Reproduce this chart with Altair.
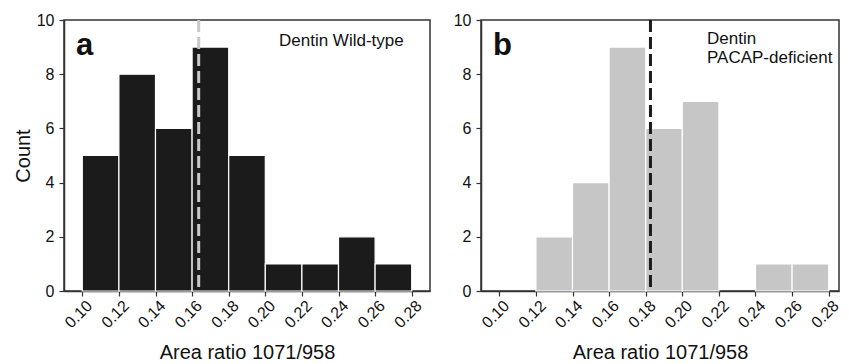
import altair as alt
import pandas as pd

bin_start = [0.10, 0.12, 0.14, 0.16, 0.18, 0.20, 0.22, 0.24, 0.26]
bin_end = [0.12, 0.14, 0.16, 0.18, 0.20, 0.22, 0.24, 0.26, 0.28]
counts_wt = [5, 8, 6, 9, 5, 1, 1, 2, 1]
counts_pacap = [0, 2, 4, 9, 6, 7, 0, 1, 1]
mean_wt = 0.1636
mean_pacap = 0.1826
x_ticks = [0.10, 0.12, 0.14, 0.16, 0.18, 0.20, 0.22, 0.24, 0.26, 0.28]
y_ticks = [0, 2, 4, 6, 8, 10]

H = 271
FONT = "Liberation Sans"


def panel(counts, mean, bar_color, line_color, letter, label_lines, show_y_title,
          width, x_max):
    df = pd.DataFrame({"start": bin_start, "end": bin_end, "count": counts})
    df = df[df["count"] > 0]
    x = alt.X(
        "start:Q",
        scale=alt.Scale(domain=[0.09, x_max], nice=False, zero=False),
        axis=alt.Axis(
            values=x_ticks, tickCount=20, format=".2f", labelAngle=-45,
            labelAlign="center", labelBaseline="middle", labelFontSize=16,
            labelPadding=18, labelOffset=-4, labelOverlap=False,
            labelFlush=False, tickSize=5, title="Area ratio 1071/958",
            titleFontSize=20, titleFontWeight="normal", titlePadding=12,
            grid=False,
        ),
    )
    y = alt.Y(
        "count:Q",
        scale=alt.Scale(domain=[0, 10], nice=False),
        axis=alt.Axis(
            values=y_ticks, format="d", labelFontSize=16, tickSize=5,
            labelPadding=5, labelOverlap=False,
            title="Count" if show_y_title else None, titleFontSize=20,
            titleFontWeight="normal", titlePadding=3, grid=False,
        ),
    )
    bars = alt.Chart(df).mark_bar(
        color=bar_color, stroke="white", strokeWidth=1.2
    ).encode(x=x, x2="end:Q", y=y, y2=alt.datum(0))
    rule = alt.Chart(pd.DataFrame({"m": [mean]})).mark_rule(
        color=line_color, strokeWidth=3, strokeDash=[12, 5]
    ).encode(x="m:Q")
    let = alt.Chart(pd.DataFrame({"t": [letter]})).mark_text(
        align="left", baseline="alphabetic", fontSize=31, fontWeight="bold",
        font=FONT, color="#111111"
    ).encode(x=alt.value(12), y=alt.value(35), text="t:N")
    lab = alt.Chart(pd.DataFrame({"t": [label_lines]})).mark_text(
        align="left", baseline="alphabetic", fontSize=17, font=FONT,
        color="#111111", lineHeight=19
    ).encode(
        x=alt.value(215 if len(label_lines) == 1 else 226),
        y=alt.value(26 if len(label_lines) == 1 else 24),
        text="t",
    )
    return alt.layer(bars, rule, let, lab).properties(width=width, height=H)


# same pixel scale in both panels; panel b is trimmed a little at the right
pa = panel(counts_wt, mean_wt, "#1b1b1b", "#c8c8c8", "a", ["Dentin Wild-type"],
           True, 366, 0.29)
pb = panel(counts_pacap, mean_pacap, "#c6c6c6", "#1b1b1b", "b",
           ["Dentin", "PACAP-deficient"], False, 358, 0.09 + 358 * 0.2 / 366)

chart = alt.hconcat(pa, pb, spacing=51, bounds="flush").properties(
    autosize=alt.AutoSizeParams(type="none"),
    padding={"left": 56, "top": 12, "right": 777, "bottom": 336},
).configure(
    font=FONT
).configure_axis(
    domainColor="#333333", tickColor="#333333", labelColor="#111111",
    titleColor="#111111", domainWidth=1.5, tickWidth=1.2, labelFont=FONT,
    titleFont=FONT,
).configure_view(
    stroke="#333333", strokeWidth=1.5
)

chart.save("out.html", embed_options={"renderer": "svg", "actions": False})
